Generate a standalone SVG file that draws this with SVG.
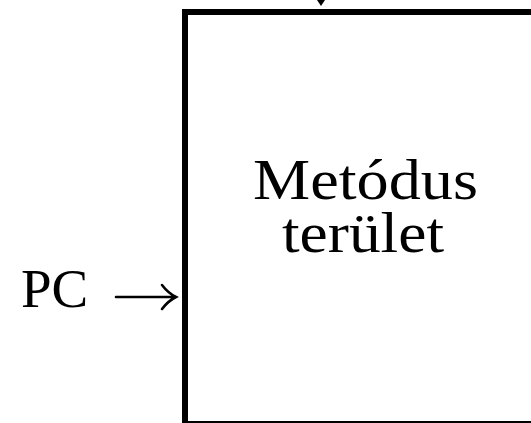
<svg xmlns="http://www.w3.org/2000/svg" width="531" height="423" viewBox="0 0 531 423">
<style>
.t{font-family:"Liberation Serif","Times New Roman",serif;fill:#000;}
.box{fill:#fff;stroke:#000;stroke-width:6;}
.arr{fill:none;stroke:#000;stroke-width:2.6;stroke-linecap:round;}
</style>
<rect width="531" height="423" fill="#fff"/>
<g id="metodus-terulet">
<rect class="box" x="185" y="12" width="400" height="412"/>
<text class="t" font-size="56.5"><tspan x="253" y="199" textLength="225" lengthAdjust="spacingAndGlyphs">Metódus</tspan><tspan x="282" y="252" textLength="162" lengthAdjust="spacingAndGlyphs">terület</tspan></text>
</g>
<g id="pc">
<text class="t" x="21" y="307" font-size="55">PC</text>
</g>
<g id="connectors">
<path class="arr" d="M116,297 H175 M162,285 Q168,293 176,297 Q168,301 162,309"/>
<polygon points="317,0 325,0 321,6" fill="#000"/>
</g>
</svg>
